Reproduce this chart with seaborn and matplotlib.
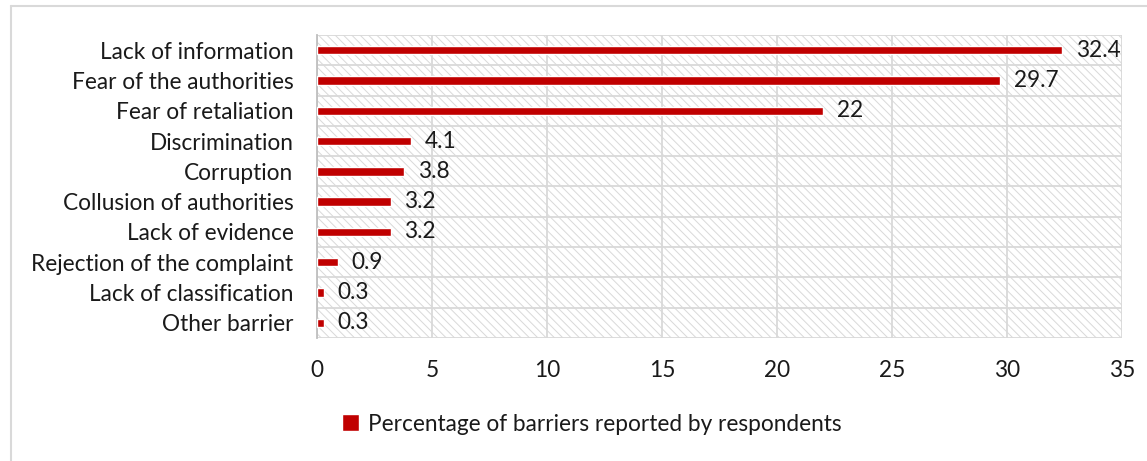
import matplotlib
matplotlib.use("Agg")
import matplotlib.pyplot as plt
from matplotlib.lines import Line2D
from matplotlib.patches import Rectangle
import seaborn as sns
import pandas as pd

# Barriers to reporting, as reported by respondents (%)
barriers = [
    "Lack of information",
    "Fear of the authorities",
    "Fear of retaliation",
    "Discrimination",
    "Corruption",
    "Collusion of authorities",
    "Lack of evidence",
    "Rejection of the complaint",
    "Lack of classification",
    "Other barrier",
]
percentages = [32.4, 29.7, 22, 4.1, 3.8, 3.2, 3.2, 0.9, 0.3, 0.3]
x_ticks = [0, 5, 10, 15, 20, 25, 30, 35]
series_name = "Percentage of barriers reported by respondents"

BAR_RED = "#C00000"
GRID = "#d9d9d9"
TEXT = "#1a1a1a"
FS = 16.3

sns.set_style("white")
plt.rcParams["font.family"] = ["Lato", "DejaVu Sans"]
plt.rcParams["hatch.linewidth"] = 0.7

df = pd.DataFrame({"barrier": barriers, "pct": percentages})

W, H = 1147, 461
fig = plt.figure(figsize=(W / 100, H / 100), dpi=100)
ax = fig.add_axes([317 / W, 1 - 338 / H, (1122 - 317) / W, (338 - 35) / H])

# hatched plot area background
ax.patch.set_visible(False)
bg = Rectangle((0, 0), 1, 1, transform=ax.transAxes, facecolor="white",
               edgecolor=GRID, linewidth=0, hatch="\\\\\\\\", zorder=0)
ax.add_patch(bg)

sns.barplot(data=df, x="pct", y="barrier", orient="h", color=BAR_RED,
            saturation=1, width=0.28, label=series_name, ax=ax, zorder=3)

ax.set_xlim(0, 35)
ax.set_ylim(len(barriers) - 0.5, -0.5)
ax.set_xticks(x_ticks)
ax.set_xticklabels([str(t) for t in x_ticks])
ax.set_xlabel("")
ax.set_ylabel("")

# gridlines: vertical at ticks, horizontal at category boundaries
ax.set_yticks([i - 0.5 for i in range(len(barriers) + 1)], minor=True)
ax.grid(axis="x", which="major", color=GRID, linewidth=1.3, zorder=1)
ax.grid(axis="y", which="minor", color=GRID, linewidth=1.3, zorder=1)
ax.grid(axis="y", which="major", visible=False)
ax.set_axisbelow(True)

for side in ["top", "right", "bottom"]:
    ax.spines[side].set_visible(False)
ax.spines["left"].set_color("#bfbfbf")
ax.spines["left"].set_linewidth(1.3)
ax.spines["left"].set_zorder(2)

ax.tick_params(axis="y", which="major", length=0, pad=17, labelsize=FS, labelcolor=TEXT)
ax.tick_params(axis="y", which="minor", length=6, width=1.3, color=GRID, direction="out")
ax.tick_params(axis="x", which="major", length=0, pad=16, labelsize=FS, labelcolor=TEXT)

ax.bar_label(ax.containers[0], labels=[f"{v:g}" for v in percentages],
             padding=10, fontsize=FS, color=TEXT)

handles, labels = ax.get_legend_handles_labels()
if ax.get_legend() is not None:
    ax.get_legend().remove()
fig.legend(handles, labels, loc="center", bbox_to_anchor=(592 / W, 1 - 424 / H),
           frameon=False, fontsize=FS, handlelength=0.75, handleheight=0.75,
           handletextpad=0.4, labelcolor=TEXT)

# chart frame (left and top edges)
fig.add_artist(Line2D([10.5 / W, 10.5 / W], [0, 1 - 6.5 / H], transform=fig.transFigure,
                      color=GRID, linewidth=1.5))
fig.add_artist(Line2D([10.5 / W, 1], [1 - 6.5 / H, 1 - 6.5 / H], transform=fig.transFigure,
                      color=GRID, linewidth=1.5))

fig.savefig("out.png", dpi=100)
